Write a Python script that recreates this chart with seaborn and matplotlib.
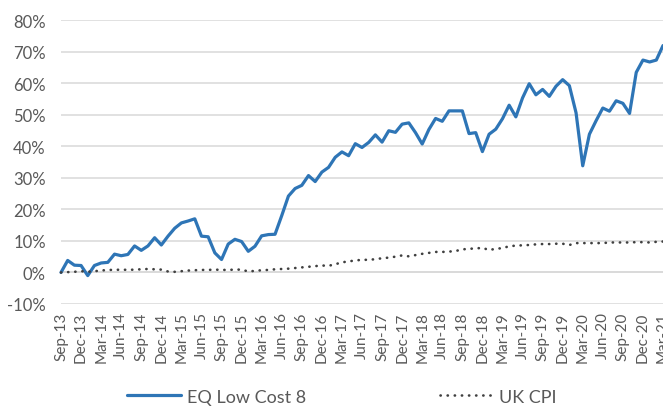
import numpy as np
import pandas as pd
import matplotlib
matplotlib.use("Agg")
import matplotlib.pyplot as plt
import seaborn as sns
from matplotlib.ticker import MultipleLocator, FuncFormatter

# monthly points, Sep-13 .. Mar-21
months = pd.date_range("2013-09-01", periods=91, freq="MS").strftime("%b-%y").tolist()

eq_low_cost_8 = [
    0.0, 3.8, 2.3, 2.2, -1.0, 2.2, 3.0, 3.2, 5.8, 5.3,
    5.7, 8.4, 7.0, 8.4, 11.0, 8.7, 11.5, 14.0, 15.7, 16.3,
    17.0, 11.5, 11.3, 6.2, 4.1, 9.0, 10.5, 9.8, 6.7, 8.3,
    11.6, 12.0, 12.1, 18.0, 24.2, 26.6, 27.6, 30.7, 28.8, 31.8,
    33.3, 36.5, 38.2, 37.0, 40.8, 39.6, 41.2, 43.6, 41.3, 44.9,
    44.4, 47.0, 47.4, 44.3, 40.7, 45.3, 48.8, 47.9, 51.2, 51.2,
    51.2, 44.0, 44.3, 38.3, 43.8, 45.4, 48.7, 53.0, 49.3, 55.3,
    59.8, 56.3, 58.0, 55.8, 59.0, 61.1, 59.2, 50.6, 33.8, 43.8,
    48.1, 52.1, 51.1, 54.4, 53.6, 50.4, 63.4, 67.3, 66.7, 67.3,
    71.9,
]

uk_cpi = [
    0.0, 0.1, 0.2, 0.4, 0.2, 0.4, 0.6, 0.8, 0.8, 0.9,
    0.8, 0.9, 1.0, 1.1, 1.0, 0.9, 0.3, 0.2, 0.4, 0.6,
    0.7, 0.8, 0.8, 0.9, 0.8, 0.8, 0.9, 0.9, 0.3, 0.5,
    0.7, 0.8, 1.0, 1.1, 1.2, 1.4, 1.6, 1.8, 2.0, 2.2,
    2.1, 2.6, 3.2, 3.5, 3.8, 4.0, 4.0, 4.2, 4.5, 4.7,
    5.0, 5.4, 5.1, 5.5, 5.9, 6.2, 6.5, 6.5, 6.6, 6.8,
    7.3, 7.5, 7.6, 7.8, 7.1, 7.5, 7.7, 8.3, 8.5, 8.6,
    8.7, 8.9, 9.0, 9.0, 9.1, 9.1, 8.7, 9.3, 9.3, 9.3,
    9.3, 9.3, 9.5, 9.5, 9.5, 9.5, 9.6, 9.6, 9.5, 9.7,
    9.8,
]

df = pd.DataFrame({
    "month": np.arange(len(months)),
    "EQ Low Cost 8": eq_low_cost_8,
    "UK CPI": uk_cpi,
})

sns.set_style("white")
plt.rcParams["font.family"] = ["Lato", "DejaVu Sans"]

GRID = "#d9d9d9"
TEXT = "#595959"

fig = plt.figure(figsize=(6.63, 4.10), dpi=100)
ax = fig.add_axes([61 / 663, 105 / 410, 602 / 663, 284 / 410])

sns.lineplot(data=df, x="month", y="EQ Low Cost 8", color="#2e75b6",
             linewidth=2.3, label="EQ Low Cost 8", ax=ax, clip_on=False)
sns.lineplot(data=df, x="month", y="UK CPI", color="#404040",
             linewidth=1.9, label="UK CPI", ax=ax, clip_on=False)
ax.lines[-1].set_linestyle((0, (0.1, 2.6)))
ax.lines[-1].set_dash_capstyle("round")

ax.set_xlim(0, len(months) - 1)
ax.set_ylim(-10, 80)
ax.yaxis.set_major_locator(MultipleLocator(10))
ax.yaxis.set_major_formatter(FuncFormatter(lambda v, p: f"{v:.0f}%"))
ax.grid(axis="y", color=GRID, linewidth=1.1)
ax.set_axisbelow(True)

ax.set_xticks(np.arange(0, len(months), 3))
ax.set_xticklabels(months[::3])
ax.xaxis.set_minor_locator(MultipleLocator(1))

for s in ["top", "right", "left"]:
    ax.spines[s].set_visible(False)
ax.spines["bottom"].set_position(("data", 0))
ax.spines["bottom"].set_color(GRID)
ax.spines["bottom"].set_linewidth(1.1)
ax.spines["bottom"].set_zorder(1)

ax.tick_params(axis="x", which="major", length=4, color=GRID, width=1,
               pad=24, labelsize=11, labelcolor=TEXT, labelrotation=90)
ax.tick_params(axis="x", which="minor", length=2.5, color=GRID, width=1)
ax.tick_params(axis="y", length=0, pad=11, labelsize=12, labelcolor=TEXT)
ax.set_xlabel("")
ax.set_ylabel("")

ax.legend_.remove()
handles, labels = ax.get_legend_handles_labels()
fig.legend(handles, labels, loc="center", bbox_to_anchor=(342 / 663, 0.03),
           ncol=2, frameon=False, fontsize=13, handlelength=3.0,
           handletextpad=0.3, columnspacing=7.4, labelcolor=TEXT)

fig.savefig("out.png", dpi=100)
